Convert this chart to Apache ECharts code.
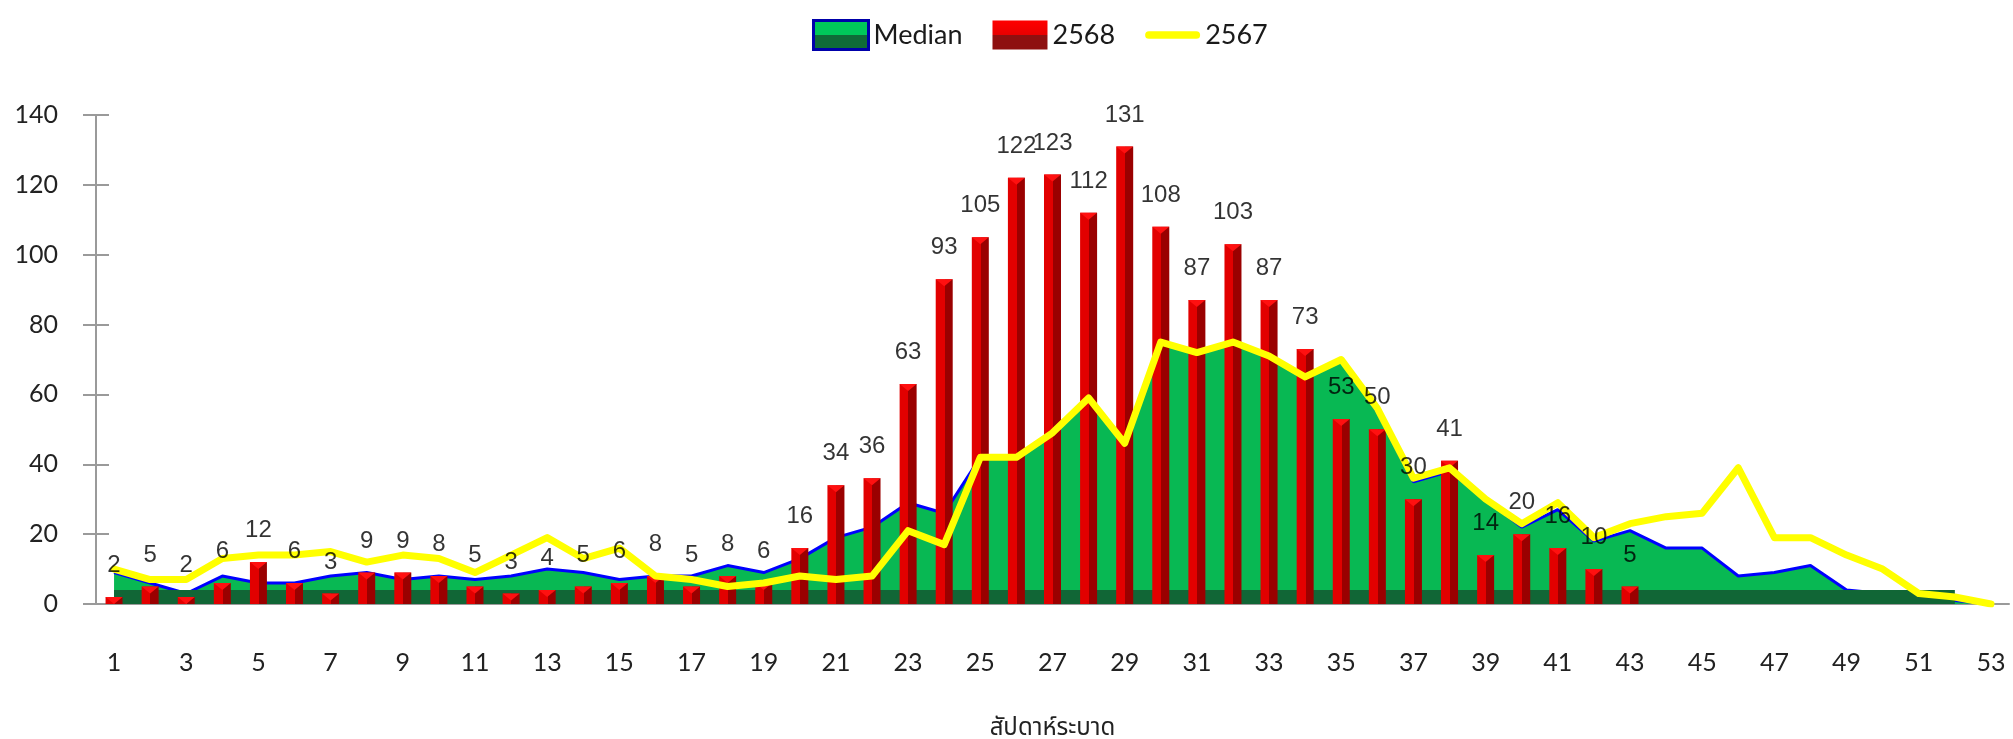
<!DOCTYPE html>
<html lang="th">
<head>
<meta charset="UTF-8">
<title>สัปดาห์ระบาด</title>
<script src="https://cdn.jsdelivr.net/npm/echarts@6/dist/echarts.min.js"></script>
<style>
  html, body { margin: 0; padding: 0; background: #fff; }
  #chart { width: 2013px; height: 739px; }
</style>
</head>
<body>
<div id="chart"></div>
<script>
    // weeks 1..53
    var weeks = ['1', '2', '3', '4', '5', '6', '7', '8', '9', '10',
        '11', '12', '13', '14', '15', '16', '17', '18', '19', '20',
        '21', '22', '23', '24', '25', '26', '27', '28', '29', '30',
        '31', '32', '33', '34', '35', '36', '37', '38', '39', '40',
        '41', '42', '43', '44', '45', '46', '47', '48', '49', '50',
        '51', '52', '53'];

    // 2568 (bars, labelled) - only up to week 43
    var cases2568 = [2, 5, 2, 6, 12, 6, 3, 9, 9, 8,
        5, 3, 4, 5, 6, 8, 5, 8, 6, 16,
        34, 36, 63, 93, 105, 122, 123, 112, 131, 108,
        87, 103, 87, 73, 53, 50, 30, 41, 14, 20,
        16, 10, 5];

    // Median (green area)
    var median = [9, 6, 3, 8, 6, 6, 8, 9, 7, 8,
        7, 8, 10, 9, 7, 8, 8, 11, 9, 13,
        19, 22, 29, 26, 42, 42, 49, 59, 46, 75,
        72, 75, 71, 65, 70, 55, 35, 38, 30, 22,
        27, 18, 21, 16, 16, 8, 9, 11, 4, 3,
        3, 1, 0];

    // 2567 (yellow line)
    var cases2567 = [10, 7, 7, 13, 14, 14, 15, 12, 14, 13,
        9, 14, 19, 13, 16, 8, 7, 5, 6, 8,
        7, 8, 21, 17, 42, 42, 49, 59, 46, 75,
        72, 75, 71, 65, 70, 56, 36, 39, 30, 23,
        29, 19, 23, 25, 26, 39, 19, 19, 14, 10,
        3, 2, 0];

    var yMin = 0, yMax = 140, yStep = 20;

    var dom = document.getElementById('chart');
    var myChart = echarts.init(dom);

    var barColor = new echarts.graphic.LinearGradient(0, 0, 1, 0, [
        {offset: 0, color: '#e20000'},
        {offset: 0.52, color: '#e20000'},
        {offset: 0.52, color: '#9a0000'},
        {offset: 1, color: '#9a0000'}
    ]);
    // legend icons with a flat "bevel" look
    var legendBar = new echarts.graphic.LinearGradient(0, 0, 0, 1, [
        {offset: 0, color: '#ff0000'},
        {offset: 0.5, color: '#e80000'},
        {offset: 0.5, color: '#8e1010'},
        {offset: 1, color: '#8e1010'}
    ]);
    var legendArea = new echarts.graphic.LinearGradient(0, 0, 0, 1, [
        {offset: 0, color: '#00c85a'},
        {offset: 0.5, color: '#00c85a'},
        {offset: 0.5, color: '#0f6b38'},
        {offset: 1, color: '#0f6b38'}
    ]);

    var axisFont = 'Lato, "Open Sans", sans-serif';

    var option = {
        animation: false,
        backgroundColor: '#fff',
        legend: {
            top: 14,
            left: 807,
            itemWidth: 55,
            itemHeight: 29,
            itemGap: 30,
            textStyle: {fontSize: 27, color: '#1a1a1a', fontFamily: axisFont},
            data: [
                {name: 'Median', icon: 'rect', itemStyle: {color: legendArea, borderColor: '#0000aa', borderWidth: 3}},
                {name: '2568', icon: 'rect', itemStyle: {color: legendBar, borderWidth: 0}},
                {name: '2567', icon: 'path://M4,0 L53,0 A4,4 0 0 1 53,8 L4,8 A4,4 0 0 1 4,0 Z', itemStyle: {color: '#ffff00', borderWidth: 0}}
            ]
        },
        grid: {left: 96, right: 4, top: 115, bottom: 135, outerBoundsMode: 'none'},
        xAxis: {
            type: 'category',
            data: weeks,
            boundaryGap: true,
            name: 'สัปดาห์ระบาด',
            nameLocation: 'middle',
            nameGap: 114,
            nameTextStyle: {fontSize: 24, color: '#222', fontFamily: '"Noto Sans Thai", "DejaVu Sans", sans-serif', verticalAlign: 'top'},
            axisLine: {lineStyle: {color: '#9a9a9a', width: 2}},
            axisTick: {show: false},
            axisLabel: {interval: 1, margin: 46, fontSize: 25, color: '#222', fontFamily: axisFont}
        },
        yAxis: [{
            type: 'value',
            min: yMin, max: yMax, interval: yStep,
            splitLine: {show: false},
            axisLine: {show: true, lineStyle: {color: '#9a9a9a', width: 2}},
            axisTick: {show: true, length: 13, lineStyle: {color: '#9a9a9a', width: 2}},
            axisLabel: {margin: 38, fontSize: 25, color: '#222', fontFamily: axisFont}
        }, {
            type: 'value',
            position: 'left',
            min: yMin, max: yMax, interval: yStep,
            splitLine: {show: false},
            axisLine: {show: false},
            axisTick: {show: true, inside: true, length: 13, lineStyle: {color: '#9a9a9a', width: 2}},
            axisLabel: {show: false}
        }],
        series: [
            {
                name: 'Median',
                type: 'line',
                data: median,
                symbol: 'none',
                z: 1,
                lineStyle: {color: '#0000ff', width: 3},
                itemStyle: {color: '#08b853'},
                areaStyle: {color: '#08b853', opacity: 1},
                markArea: {
                    silent: true,
                    z: 2,
                    itemStyle: {color: '#116636'},
                    data: [[{xAxis: '1', yAxis: 0}, {xAxis: '52', yAxis: 4}]]
                }
            },
            {
                name: '2568',
                type: 'bar',
                data: cases2568,
                barWidth: 17,
                z: 3,
                itemStyle: {color: barColor}
            },
            {
                name: 'cap',
                type: 'pictorialBar',
                data: cases2568,
                symbol: 'path://M0,0 L10,0 L5,4 Z',
                symbolSize: [17, 7],
                symbolPosition: 'end',
                z: 4,
                silent: true,
                itemStyle: {color: '#ff1010'}
            },
            {
                name: '2567',
                type: 'line',
                data: cases2567,
                symbol: 'none',
                z: 6,
                lineStyle: {color: '#ffff00', width: 7, cap: 'round', join: 'round'},
                itemStyle: {color: '#ffff00'}
            },
            {
                name: 'labels',
                type: 'scatter',
                data: cases2568,
                symbolSize: 1,
                z: 10,
                silent: true,
                itemStyle: {color: 'rgba(0,0,0,0)'},
                label: {
                    show: true,
                    position: 'top',
                    distance: 19,
                    fontSize: 24,
                    color: '#000',
                    fontFamily: '"Liberation Sans", Arial, sans-serif'
                }
            }
        ]
    };

    myChart.setOption(option);
</script>
</body>
</html>
